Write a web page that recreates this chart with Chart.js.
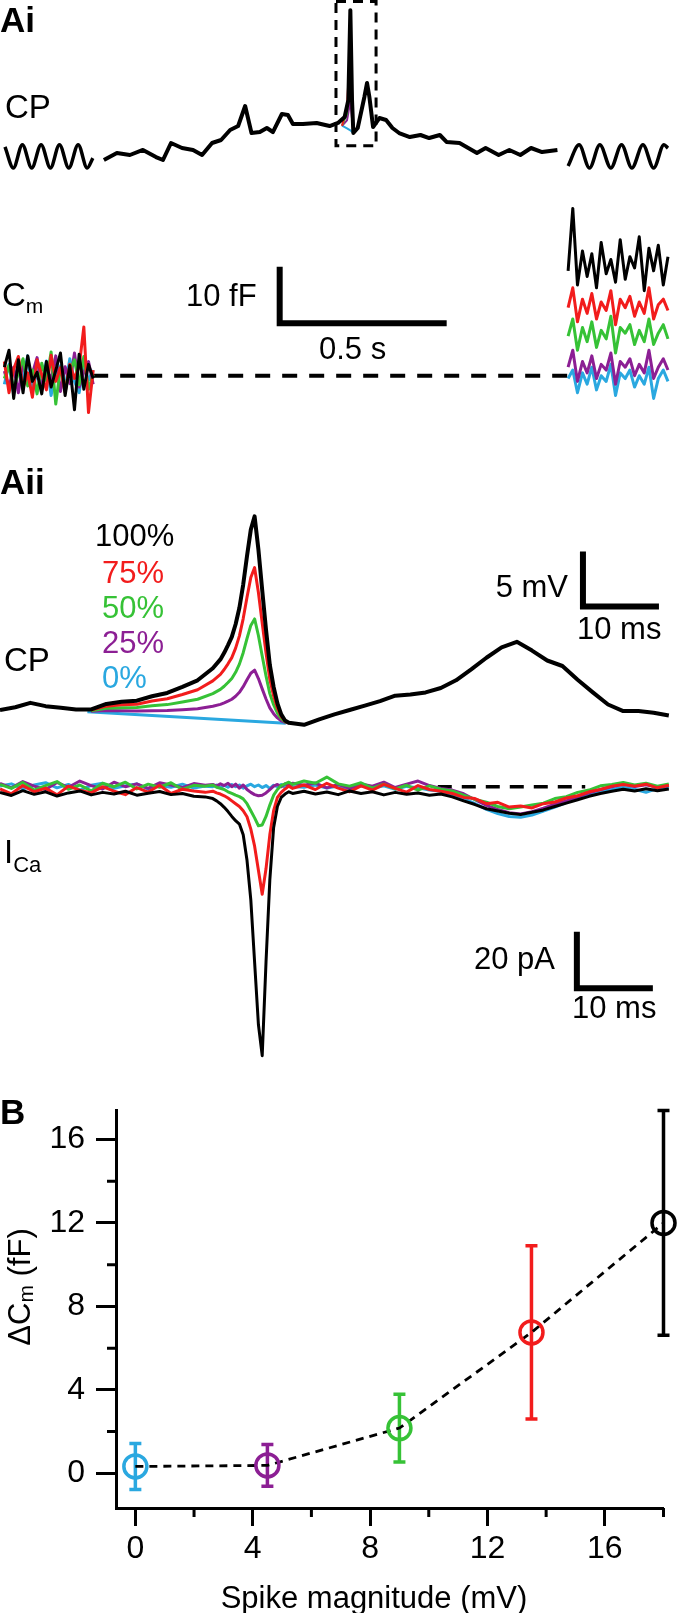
<!DOCTYPE html>
<html>
<head>
<meta charset="utf-8">
<script src="https://cdn.jsdelivr.net/npm/chart.js@4.4.1/dist/chart.umd.min.js"></script>
<style>
body { margin: 0; background: #fff; }
#page { position: relative; width: 680px; height: 1613px; overflow: hidden; font-family: "Liberation Sans", Arial, sans-serif; color: #000; }
#page canvas { position: absolute; left: 0; }
.lbl { position: absolute; font-size: 31px; line-height: 1; white-space: nowrap; z-index: 2; }
.big { font-size: 33px; }
.bold { font-weight: bold; font-size: 35px; }
.sub { font-size: 21px; vertical-align: -7px; }
</style>
</head>
<body>
<div id="page">
  <canvas id="aiCp" width="680" height="175" style="top:0"></canvas>
  <canvas id="aiCm" width="680" height="245" style="top:175px"></canvas>
  <canvas id="aiiCp" width="680" height="250" style="top:490px"></canvas>
  <canvas id="aiiCa" width="680" height="320" style="top:760px"></canvas>
  <canvas id="bChart" width="680" height="533" style="top:1080px"></canvas>

  <div class="lbl bold" style="left:0;top:2px">Ai</div>
  <div class="lbl big" style="left:5px;top:90px">CP</div>
  <div class="lbl big" style="left:2px;top:278px">C<span class="sub">m</span></div>
  <div class="lbl" style="left:186px;top:280px">10 fF</div>
  <div class="lbl" style="left:319px;top:333px">0.5 s</div>

  <div class="lbl bold" style="left:0;top:464px">Aii</div>
  <div class="lbl" style="left:95px;top:520px;color:#000">100%</div>
  <div class="lbl" style="left:102px;top:557px;color:#f21c1c">75%</div>
  <div class="lbl" style="left:102px;top:592px;color:#36c236">50%</div>
  <div class="lbl" style="left:102px;top:627px;color:#8c1f94">25%</div>
  <div class="lbl" style="left:102px;top:662px;color:#2aa8e0">0%</div>
  <div class="lbl big" style="left:4px;top:643px">CP</div>
  <div class="lbl" style="right:112px;top:571px">5 mV</div>
  <div class="lbl" style="left:577px;top:613px">10 ms</div>
  <div class="lbl big" style="left:4px;top:835px">I<span class="sub" style="font-size:22px;vertical-align:-9px">Ca</span></div>
  <div class="lbl" style="right:125px;top:943px">20 pA</div>
  <div class="lbl" style="left:572px;top:992px">10 ms</div>

  <div class="lbl bold" style="left:0;top:1094px">B</div>
  <svg style="position:absolute;left:0;top:1180px;z-index:2" width="60" height="220">
    <text x="19" y="107" transform="rotate(-90 19 107)" text-anchor="middle" dominant-baseline="central"
          font-family="Liberation Sans, Arial, sans-serif" font-size="31" fill="#000">&#916;C<tspan font-size="21" dy="6">m</tspan><tspan dy="-6"> (fF)</tspan></text>
  </svg>
  <div class="lbl" style="left:374px;top:1582px;transform:translateX(-50%)">Spike magnitude (mV)</div>
</div>

<script>
// ---- Ai: cell potential, whole sweep (time s, potential mV) ----
var aiT = [0.311,0.350,0.389,0.428,0.467,0.488,0.512,0.545,0.578,0.605,0.635,0.662,0.689,0.713,0.734,0.753,0.778,0.799,0.817,0.844,0.862,0.877,0.907,0.948,0.987,1.012,1.032,1.043,1.049,1.054,1.058,1.071,1.091,1.099,1.106,1.117,1.136,1.156,1.175,1.195,1.227,1.259,1.285,1.317,1.337,1.376,1.402,1.428,1.454,1.493,1.525,1.558,1.590,1.623,1.669];
var aiV = [0.0,1.06,0.76,1.52,0.45,0.0,2.58,1.82,1.52,0.76,2.58,3.03,4.55,5.15,8.18,4.09,4.24,4.85,4.24,6.97,6.82,5.45,5.45,5.61,5.15,5.61,6.52,9.09,22.7,9.09,4.09,4.85,9.55,11.67,9.55,5.0,6.36,6.06,4.85,4.09,3.48,3.79,3.33,3.79,2.73,2.58,1.82,1.06,1.82,0.76,1.52,0.76,1.82,1.21,1.52];
var aiSpikeT = [1.024,1.039,1.049,1.058];
var aiSpike75 = [5.2,8.0,18.1,4.09];
var aiSpike50 = [5.2,7.0,13.5,4.09];
var aiSpike25 = [5.2,6.0,8.9,4.09];
var aiSpike0 = [5.2,4.8,4.5,4.09];
var sineLeftT = [0.015,0.040,0.067,0.095,0.123,0.151,0.178,0.206,0.234,0.261,0.278];
var sineLeftV = [2.0,-1.2,2.3,-1.2,2.3,-1.2,2.3,-1.2,2.3,-1.2,0.3];
var sineRightT = [1.701,1.734,1.765,1.796,1.829,1.861,1.892,1.925,1.957,1.988,2.000];
var sineRightV = [-0.9,2.3,-1.2,2.3,-1.2,2.3,-1.2,2.3,-1.2,2.3,1.8];
var zoomBoxT = [1.006, 1.126];
var zoomBoxV = [2.17, 24.0];

// ---- Ai: membrane capacitance before / after (fF) ----
var cmLeftT = [0.013,0.027,0.041,0.055,0.069,0.083,0.097,0.111,0.125,0.139,0.153,0.167,0.181,0.195,0.209,0.223,0.237,0.251,0.265,0.279];
var cmLeft0 = [-1.5,2.0,-3.2,1.2,-0.5,3.5,-2.8,0.8,-1.9,2.6,-3.5,0.5,1.8,-2.2,3.0,-1.0,-3.0,2.2,-0.8,1.0];
var cmLeft25 = [0.8,-2.0,1.5,-3.0,2.5,-1.2,0.4,3.2,-2.5,1.0,-0.6,3.5,-2.8,1.6,-1.4,4.0,-2.0,0.6,2.5,-1.5];
var cmLeft50 = [-0.5,1.8,-2.5,0.6,3.0,-1.8,1.0,-3.2,2.2,-0.9,4.2,-5.0,1.5,-2.0,0.8,2.8,-1.6,3.4,-2.4,0.2];
var cmLeft75 = [2.5,-3.0,1.2,3.4,-2.2,0.5,-3.8,2.8,0.2,-2.5,3.6,-1.0,1.4,-3.0,2.0,-0.5,1.6,8.6,-6.5,1.0];
var cmLeft100 = [1.5,4.5,-4.0,2.8,-3.0,3.5,-1.0,0.6,-3.2,2.5,-2.0,1.0,4.0,-3.5,1.8,-6.0,3.8,-2.4,2.0,-0.5];
var cmRightT = [1.701,1.715,1.729,1.744,1.758,1.772,1.786,1.800,1.815,1.829,1.843,1.857,1.872,1.886,1.900,1.914,1.929,1.943,1.957,1.971,1.986,2.000];
var cmRight0 = [-0.5,1.0,-3.0,0.5,-1.5,1.5,-2.5,0.0,-1.0,2.0,-3.5,0.5,-0.5,1.0,-2.0,0.0,-1.5,1.5,-4.0,-0.5,1.0,-1.0];
var cmRight25 = [1.5,4.5,-1.0,2.5,0.5,3.5,-0.5,2.0,1.0,4.0,-1.5,2.5,1.5,3.0,0.0,2.0,0.5,4.5,-0.5,1.5,3.0,1.0];
var cmRight50 = [7.0,10.0,4.5,8.5,6.0,9.5,5.0,8.0,6.5,10.5,4.0,8.5,7.5,9.0,5.5,8.0,6.0,10.0,5.5,7.5,9.0,6.5];
var cmRight75 = [12.0,15.5,9.5,13.5,11.0,14.5,10.0,13.0,11.5,15.0,9.0,13.5,12.0,14.0,10.5,13.0,11.0,15.5,10.0,12.5,13.5,11.5];
var cmRight100 = [18.5,29.5,16.0,22.0,17.5,21.5,15.5,23.5,18.0,20.5,16.5,24.0,17.0,21.0,19.0,24.5,15.0,22.5,18.5,23.0,16.0,21.0];
var cmGapT = [0.279, 1.701];

// ---- Aii: cell potential around the spike (ms, mV) ----
var cpT = [0,2,4,6,8,10,12,14,16,18,20,22,24,26,28,29,29.5,30,30.5,31,31.5,32,32.5,33,33.5,34,34.5,35,35.5,36,36.5,37,37.5,38,40,42,44,46,48,50,52,54,56,58,60,62,64,66,68,70,72,74,76,78,80,82,84,86,88];
var cp100 = [0.0,0.25,0.65,0.35,0.2,0.05,0.05,0.55,0.75,0.85,1.25,1.55,2.1,2.7,3.8,4.6,5.2,5.9,6.65,7.8,9.3,11.4,14.0,16.4,17.6,14.6,10.9,7.3,4.1,2.1,0.6,-0.4,-0.95,-1.15,-1.35,-0.85,-0.4,0.0,0.4,0.8,1.3,1.4,1.6,2.0,2.7,3.7,4.75,5.7,6.2,5.4,4.5,4.0,2.75,1.6,0.5,-0.1,-0.1,-0.25,-0.5];
var cpSpikeT = [12,14,16,18,20,22,24,26,28,29,29.5,30,30.5,31,31.5,32,32.5,33,33.5,34,34.5,35,35.5,36,36.5,37,37.5,38];
var cp75 = [0.0,0.35,0.48,0.53,0.81,1.02,1.41,1.84,2.65,3.24,3.68,4.2,4.76,5.62,6.74,8.31,10.25,12.05,12.94,10.68,7.91,5.2,2.8,1.29,0.16,-0.59,-1.01,-1.17];
var cp50 = [-0.06,0.15,0.21,0.22,0.38,0.49,0.72,0.98,1.49,1.87,2.16,2.5,2.87,3.43,4.17,5.21,6.5,7.69,8.28,6.77,4.91,3.1,1.49,0.48,-0.28,-0.79,-1.07,-1.17];
var cp25 = [-0.12,-0.05,-0.06,-0.10,-0.06,-0.04,0.03,0.12,0.34,0.51,0.64,0.8,0.98,1.25,1.61,2.12,2.75,3.34,3.62,2.86,1.92,1.0,0.19,-0.33,-0.72,-0.98,-1.13,-1.17];
var cp0T = [11.5, 37.6];
var cp0 = [-0.15, -1.2];

// ---- Aii: calcium current (ms, pA) ----
var icaT = [0,1.5,3,4.5,6,7.5,9,10.5,12,13.5,15,16.5,18,19.5,21,22.5,24,25.5,27,28,28.5,29,29.5,30,30.5,31,31.5,32,32.5,33,33.5,34,34.5,35,35.5,36,36.5,37,37.5,38,38.5,40,41.5,43,44.5,46,47.5,49,50.5,52,53.5,55,56.5,58,59.5,61,62.5,64,65.5,67,68.5,70,71.5,73,74.5,76,77.5,79,80.5,82,83.5,85,86.5,88];
var ica100 = [-2.0,-3.1,-1.4,-2.7,-1.8,-3.3,-2.2,-1.5,-2.9,-2.0,-2.6,-1.6,-3.0,-2.3,-1.7,-2.8,-2.4,-3.4,-3.6,-4.2,-5.0,-6.0,-7.3,-8.8,-10.5,-12.0,-13.2,-17.0,-26.0,-40.0,-62.0,-84.0,-95.0,-62.0,-33.0,-14.5,-7.0,-3.8,-2.6,-1.8,-2.4,-1.6,-2.6,-1.9,-2.8,-1.5,-2.4,-1.8,-2.9,-2.0,-2.7,-2.2,-3.0,-2.6,-3.6,-5.0,-6.3,-7.8,-8.6,-9.4,-9.8,-9.0,-8.2,-7.0,-5.8,-4.6,-3.4,-2.4,-1.6,-0.9,-1.5,-0.7,-1.4,-0.8];
var ica75 = [-0.8,-2.5,0.4,-1.8,-0.5,-2.9,0.2,-1.2,-2.2,0.0,-1.6,-2.8,-0.3,-1.9,0.5,-2.4,-0.9,-1.5,-2.0,-1.6,-2.2,-2.6,-3.2,-4.0,-5.0,-6.0,-7.0,-8.5,-10.6,-15.0,-21.0,-29.5,-38.0,-29.0,-17.0,-8.5,-3.8,-2.0,-0.8,0.2,-0.6,0.6,-1.0,1.2,-0.5,-1.8,0.3,-1.2,0.8,-0.6,-1.9,0.4,-1.0,-1.6,-2.4,-3.8,-4.2,-6.0,-5.5,-7.2,-6.8,-7.5,-6.0,-5.4,-4.0,-3.2,-1.8,-1.0,0.2,0.8,0.2,0.9,-0.4,0.5];
var ica50 = [0.8,-0.6,1.5,-1.2,0.4,1.8,-0.9,0.6,-1.5,1.2,0.0,1.6,-0.8,0.9,-0.2,1.4,-1.0,0.5,0.2,0.6,-0.2,-0.6,-1.0,-1.8,-2.4,-3.0,-3.5,-4.3,-6.0,-8.5,-11.0,-13.8,-13.5,-10.5,-6.5,-3.0,-1.0,0.4,1.0,1.6,0.8,2.0,1.2,3.4,1.0,0.2,1.4,-0.5,0.9,-0.8,0.5,-1.2,0.3,-0.9,-1.5,-3.0,-4.5,-5.5,-7.0,-7.8,-7.2,-6.5,-5.8,-4.2,-3.5,-2.0,-1.2,0.3,0.8,1.5,0.6,1.2,0.2,1.0];
var ica25 = [1.2,-0.4,1.8,0.2,-1.0,1.5,-0.2,2.0,0.4,-0.8,1.6,0.0,1.0,-0.6,1.4,0.6,-0.3,1.1,0.5,0.8,0.2,1.0,0.4,1.2,0.0,0.9,-0.5,0.6,-1.0,-2.0,-2.8,-3.2,-3.0,-2.2,-1.0,0.2,0.8,0.0,1.0,0.4,1.2,0.5,1.3,-0.4,0.8,-0.6,1.0,0.2,1.6,-0.3,0.9,2.0,0.4,-0.6,-1.2,-2.5,-4.6,-6.6,-8.0,-9.2,-9.6,-8.8,-7.6,-6.2,-5.0,-3.6,-2.2,-1.0,0.0,0.9,0.1,0.7,-0.2,0.4];
var ica0 = [0.2,1.0,-0.8,0.6,1.4,-0.4,0.8,-1.2,0.5,1.2,-0.6,0.3,1.0,-0.9,0.4,-0.2,0.9,-0.5,0.2,0.0,0.6,-0.4,0.5,-0.2,0.8,0.0,0.6,-0.5,0.3,0.9,0.0,0.6,-0.3,0.4,-0.6,0.5,0.0,0.8,-0.2,0.5,0.1,-0.2,0.6,-0.5,0.2,-0.8,0.4,-0.6,0.3,-0.9,0.1,-0.4,-1.2,-1.6,-2.8,-4.2,-6.0,-8.0,-9.5,-10.5,-10.8,-10.0,-8.6,-7.2,-5.6,-4.0,-3.0,-1.6,-1.0,-0.2,-0.9,-2.0,-0.6,-0.3];
var icaZeroT = [57.6, 77.0];

// ---- B: summary ----
var spikeMag = [0, 4.5, 9, 13.5, 18];
var dCm = [0.33, 0.38, 2.17, 6.75, 12.0];
var dCmSem = [1.1, 1.0, 1.62, 4.15, 5.38];
var xTicksMinor = [2, 6, 10, 14, 18];
var yTicksMinor = [2, 6, 10, 14];

var c100 = '#000000', c75 = '#f21c1c', c50 = '#36c236', c25 = '#8c1f94', c0 = '#2aa8e0';
var groupColors = [c0, c25, c50, c75, c100];

Chart.defaults.font.family = '"Liberation Sans", Arial, sans-serif';

function pts(ts, vs) {
    var d = [];
    for (var i = 0; i < Math.min(ts.length, vs.length); i++) d.push({x: ts[i], y: vs[i]});
    return d;
}

function line(ts, vs, color, width, extra) {
    return Object.assign({
        data: pts(ts, vs), showLine: true, borderColor: color, borderWidth: width,
        pointRadius: 0, fill: false, tension: 0, clip: false,
        borderJoinStyle: 'round', borderCapStyle: 'butt'
    }, extra || {});
}

// scale bar: vertical then horizontal, corner at (t, v)
function bar(t, v, dt, dv) {
    return line([t, t, t + dt], [v + dv, v, v], '#000', 6, {borderJoinStyle: 'miter'});
}

function trace(id, xr, yr, datasets) {
    return new Chart(document.getElementById(id), {
        type: 'scatter',
        data: {datasets: datasets},
        options: {
            responsive: false, animation: false, devicePixelRatio: 1,
            layout: {padding: 0},
            plugins: {legend: {display: false}, tooltip: {enabled: false}},
            scales: {
                x: {type: 'linear', display: false, min: xr[0], max: xr[1]},
                y: {type: 'linear', display: false, min: yr[0], max: yr[1]}
            }
        }
    });
}

// first dataset is drawn on top
var smooth = {cubicInterpolationMode: 'monotone'};
trace('aiCp', [0, 2.036], [-2.27, 24.24], [
    line(aiT, aiV, c100, 4),
    line(aiSpikeT, aiSpike75, c75, 2),
    line(aiSpikeT, aiSpike50, c50, 2),
    line(aiSpikeT, aiSpike25, c25, 2),
    line(aiSpikeT, aiSpike0, c0, 2),
    line(sineLeftT, sineLeftV, c100, 3.5, smooth),
    line(sineRightT, sineRightV, c100, 3.5, smooth),
    line([zoomBoxT[0], zoomBoxT[1], zoomBoxT[1], zoomBoxT[0], zoomBoxT[0]],
         [zoomBoxV[1], zoomBoxV[1], zoomBoxV[0], zoomBoxV[0], zoomBoxV[1]],
         '#000', 3, {borderDash: [10, 7], borderJoinStyle: 'miter'})
]);

trace('aiCm', [0, 2.036], [-7.81, 35.4], [
    line(cmLeftT, cmLeft100, c100, 3),
    line(cmLeftT, cmLeft75, c75, 3),
    line(cmLeftT, cmLeft50, c50, 3),
    line(cmLeftT, cmLeft25, c25, 3),
    line(cmLeftT, cmLeft0, c0, 3),
    line(cmRightT, cmRight100, c100, 3),
    line(cmRightT, cmRight75, c75, 3),
    line(cmRightT, cmRight50, c50, 3),
    line(cmRightT, cmRight25, c25, 3),
    line(cmRightT, cmRight0, c0, 3),
    line(cmGapT, [0, 0], '#000', 4, {borderDash: [15, 12]}),
    bar(0.8374, 9.24, 0.5, 10)
]);

trace('aiiCp', [0, 89.47], [-2.727, 20], [
    line(cpT, cp100, c100, 4),
    line(cpSpikeT, cp75, c75, 3),
    line(cpSpikeT, cp50, c50, 3),
    line(cpSpikeT, cp25, c25, 3),
    line(cp0T, cp0, c0, 3),
    bar(76.7, 9.4, 10, 5)
]);

trace('aiiCa', [0, 89.47], [-103.6, 9.43], [
    line(icaT, ica100, c100, 3),
    line(icaT, ica75, c75, 3),
    line(icaT, ica50, c50, 3),
    line(icaT, ica25, c25, 3),
    line(icaT, ica0, c0, 3),
    line(icaZeroT, [0, 0], '#000', 3.5, {borderDash: [14, 10]}),
    bar(75.9, -71.2, 10, 20)
]);

// ---- B ----
var errorBars = {
    id: 'errorBars',
    beforeDatasetsDraw: function(chart) {
        var ctx = chart.ctx, xs = chart.scales.x, ys = chart.scales.y;
        ctx.save();
        ctx.lineWidth = 3.5;
        for (var i = 0; i < spikeMag.length; i++) {
            var px = xs.getPixelForValue(spikeMag[i]);
            var top = ys.getPixelForValue(dCm[i] + dCmSem[i]);
            var bot = ys.getPixelForValue(dCm[i] - dCmSem[i]);
            ctx.strokeStyle = groupColors[i];
            ctx.beginPath();
            ctx.moveTo(px, top); ctx.lineTo(px, bot);
            ctx.moveTo(px - 6, top); ctx.lineTo(px + 6, top);
            ctx.moveTo(px - 6, bot); ctx.lineTo(px + 6, bot);
            ctx.stroke();
        }
        ctx.restore();
    }
};

var minorTicks = {
    id: 'minorTicks',
    afterDraw: function(chart) {
        var ctx = chart.ctx, xs = chart.scales.x, ys = chart.scales.y, a = chart.chartArea;
        ctx.save();
        ctx.strokeStyle = '#000';
        ctx.lineWidth = 3;
        ctx.beginPath();
        xTicksMinor.forEach(function(v) {
            var p = xs.getPixelForValue(v);
            ctx.moveTo(p, a.bottom); ctx.lineTo(p, a.bottom + 9);
        });
        yTicksMinor.forEach(function(v) {
            var p = ys.getPixelForValue(v);
            ctx.moveTo(a.left, p); ctx.lineTo(a.left - 9, p);
        });
        ctx.stroke();
        ctx.restore();
    }
};

var bPoints = pts(spikeMag, dCm);
new Chart(document.getElementById('bChart'), {
    type: 'scatter',
    data: {
        datasets: [{
            data: bPoints, showLine: false, clip: false,
            pointRadius: 11.5, pointHoverRadius: 11.5, pointBorderWidth: 3.5,
            pointBackgroundColor: 'rgba(0,0,0,0)', backgroundColor: 'rgba(0,0,0,0)',
            pointBorderColor: groupColors, borderColor: groupColors
        }, {
            data: bPoints, showLine: true, clip: false,
            borderColor: '#000', borderWidth: 2.8, borderDash: [8, 6], pointRadius: 0
        }]
    },
    options: {
        responsive: false, animation: false, devicePixelRatio: 1,
        layout: {padding: {top: 23, right: 16.5, left: 0, bottom: 0}},
        plugins: {legend: {display: false}, tooltip: {enabled: false}},
        scales: {
            x: {
                type: 'linear', min: -0.66, max: 18,
                afterFit: function(s) { s.height = 105; },
                border: {display: true, color: '#000', width: 3},
                grid: {display: true, drawOnChartArea: false, drawTicks: true, tickLength: 18, tickWidth: 3, tickColor: '#000'},
                ticks: {stepSize: 4, includeBounds: false, color: '#000', font: {size: 32}, padding: 4, maxRotation: 0}
            },
            y: {
                type: 'linear', min: -1.66, max: 17.4,
                afterFit: function(s) { s.width = 116; },
                border: {display: true, color: '#000', width: 3},
                grid: {display: true, drawOnChartArea: false, drawTicks: true, tickLength: 20, tickWidth: 3, tickColor: '#000'},
                ticks: {stepSize: 4, includeBounds: false, color: '#000', font: {size: 32}, padding: 11}
            }
        }
    },
    plugins: [errorBars, minorTicks]
});
</script>
</body>
</html>
